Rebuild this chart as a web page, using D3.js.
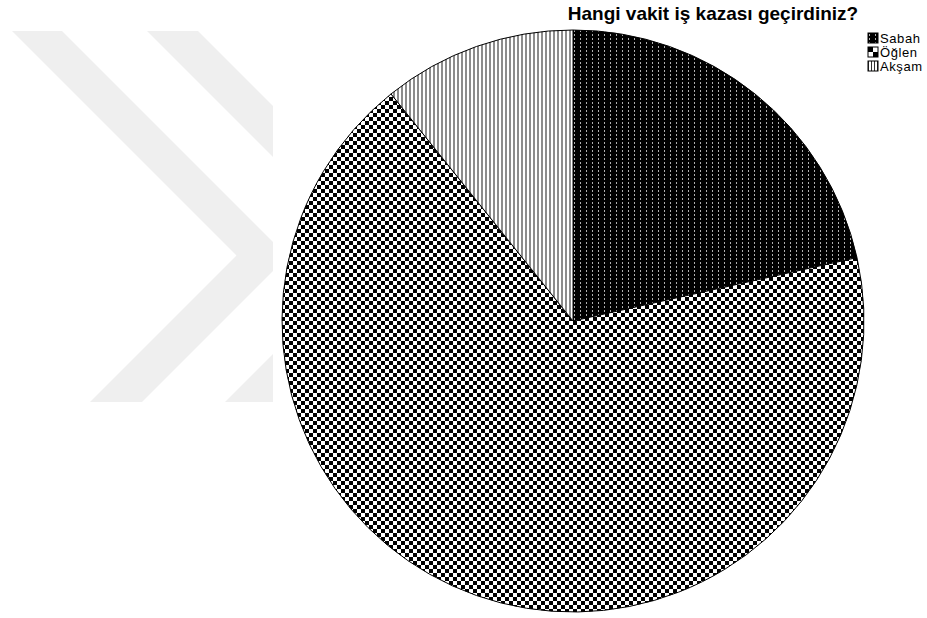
<!DOCTYPE html>
<html>
<head>
<meta charset="utf-8">
<script src="https://cdn.jsdelivr.net/npm/d3@7"></script>
<style>
  html, body { margin: 0; padding: 0; background: #fff; }
  svg { display: block; }
</style>
</head>
<body>
<svg id="chart" width="927" height="618"></svg>
<script>
const title = "Hangi vakit iş kazası geçirdiniz?";
const categories = ["Sabah", "Öğlen", "Akşam"];
const counts = [20, 63, 10];
const patternIds = ["pSabah", "pOglen", "pAksam"];

const svg = d3.select("#chart");
const W = 927, H = 618;
const defs = svg.append("defs");

// Patterns
function sabahPattern(id, w, h) {
  const p = defs.append("pattern").attr("id", id).attr("patternUnits", "userSpaceOnUse")
    .attr("width", w).attr("height", h);
  p.append("rect").attr("width", w).attr("height", h).attr("fill", "#000");
  p.append("rect").attr("x", 1).attr("y", 1).attr("width", 1).attr("height", 2).attr("fill", "#b0b0b0");
}
function checkPattern(id, s) {
  const p = defs.append("pattern").attr("id", id).attr("patternUnits", "userSpaceOnUse")
    .attr("width", 2 * s).attr("height", 2 * s);
  p.append("rect").attr("width", 2 * s).attr("height", 2 * s).attr("fill", "#fff");
  p.append("rect").attr("width", s).attr("height", s).attr("fill", "#000");
  p.append("rect").attr("x", s).attr("y", s).attr("width", s).attr("height", s).attr("fill", "#000");
}
function stripePattern(id, w, lw, col) {
  const p = defs.append("pattern").attr("id", id).attr("patternUnits", "userSpaceOnUse")
    .attr("width", w).attr("height", 4);
  p.append("rect").attr("width", w).attr("height", 4).attr("fill", "#fff");
  p.append("rect").attr("x", 0).attr("width", lw).attr("height", 4).attr("fill", col);
}
sabahPattern("pSabah", 6, 4);
checkPattern("pOglen", 4);
stripePattern("pAksam", 4, 2, "#8c8c8c");
// legend versions
sabahPattern("lSabah", 6, 4);
checkPattern("lOglen", 5);
stripePattern("lAksam", 3, 1, "#333");

// Watermark (light grey chevrons, clipped)
defs.append("clipPath").attr("id", "wmClip")
  .append("rect").attr("x", 0).attr("y", 31).attr("width", 273).attr("height", 371);
const wm = svg.append("g").attr("clip-path", "url(#wmClip)").attr("fill", "#efefef");
const chevrons = [
  { x0: 12, w: 50, bx: 90 },
  { x0: 147, w: 51, bx: 225 }
];
chevrons.forEach(c => {
  const top = 31, bot = 402;
  const yi = (c.bx + bot - c.x0 + top) / 2;
  const xi = c.x0 + (yi - top);
  const bxr = c.bx + c.w + 2;
  const yo = (bxr + bot - (c.x0 + c.w) + top) / 2;
  const xo = c.x0 + c.w + (yo - top);
  const pts = [[c.x0, top], [c.x0 + c.w, top], [xo, yo], [bxr, bot], [c.bx, bot], [xi, yi]];
  wm.append("path").attr("d", d3.line()(pts) + "Z");
});

// Pie
const cx = 573, cy = 321, R = 291;
const pie = d3.pie().sort(null).value(d => d)(counts);
const arc = d3.arc().innerRadius(0).outerRadius(R);
const g = svg.append("g").attr("transform", `translate(${cx},${cy})`);
g.selectAll("path").data(pie).join("path")
  .attr("d", arc)
  .attr("fill", (d, i) => `url(#${patternIds[i]})`)
  .attr("stroke", "#000")
  .attr("stroke-width", 1);

// Title
svg.append("text")
  .attr("x", 713).attr("y", 20)
  .attr("text-anchor", "middle")
  .attr("font-family", "Liberation Sans, Arial, sans-serif")
  .attr("font-weight", "bold")
  .attr("font-size", 19)
  .attr("fill", "#000")
  .text(title);

// Legend
const legIds = ["lSabah", "lOglen", "lAksam"];
const lg = svg.append("g").attr("transform", "translate(868,33)");
const items = lg.selectAll("g").data(categories).join("g")
  .attr("transform", (d, i) => `translate(0,${i * 14})`);
items.append("rect").attr("width", 10).attr("height", 10)
  .attr("fill", (d, i) => `url(#${legIds[i]})`)
  .attr("stroke", "#000").attr("stroke-width", 1);
items.append("text").attr("x", 12).attr("y", 10)
  .attr("font-family", "Liberation Sans, Arial, sans-serif")
  .attr("font-size", 13)
  .attr("letter-spacing", 0.6)
  .attr("fill", "#000")
  .text(d => d);
</script>
</body>
</html>
